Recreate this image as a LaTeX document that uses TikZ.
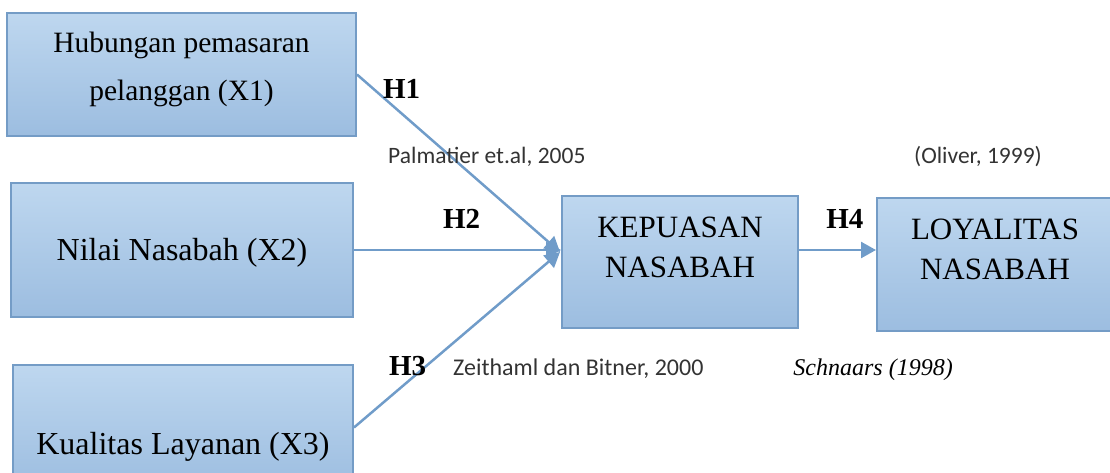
\documentclass[tikz,border=0pt]{standalone}
\usepackage{fontspec}
\setmainfont{Liberation Serif}
\newfontfamily\citefont{Carlito}
\usetikzlibrary{positioning, arrows.meta}

\definecolor{boxtop}{RGB}{190,215,239}
\definecolor{boxbot}{RGB}{156,189,224}
\definecolor{boxline}{RGB}{116,156,198}
\definecolor{linkblue}{RGB}{112,156,201}

\begin{document}
\begin{tikzpicture}[x=1pt,y=-1pt]
  \tikzstyle{var}=[draw=boxline, line width=2pt, top color=boxtop, bottom color=boxbot,
    align=center, inner sep=0pt, font=\fontsize{31}{48}\selectfont]
  \tikzstyle{link}=[draw=linkblue, line width=2.5pt, -{Triangle[length=15pt,width=16pt]}]
  \tikzstyle{hyp}=[font=\fontsize{29}{29}\selectfont\bfseries, inner sep=2pt]
  \tikzstyle{cite}=[font=\citefont\fontsize{23.5}{24}\selectfont, text=black!80, inner sep=0pt]
  \useasboundingbox (0,0) rectangle (1110,472);
  \clip (0,0) rectangle (1110,472);
  \node[var, minimum width=349pt, minimum height=123pt, text depth=16pt,
    font=\fontsize{29.5}{48}\selectfont] (x1) at (181.5,74.5) {Hubungan pemasaran\\pelanggan (X1)};
  \node[var, minimum width=342pt, minimum height=134pt, text height=28pt,
    font=\fontsize{32}{40}\selectfont] (x2) at (182,250) {Nilai Nasabah (X2)};
  \node[var, minimum width=340pt, minimum height=125pt, text height=60pt, text depth=7pt,
    font=\fontsize{32}{40}\selectfont] (x3) at (183,427.5) {Kualitas Layanan (X3)};
  \node[var, minimum width=236pt, minimum height=132pt, text depth=30pt,
    font=\fontsize{31}{40}\selectfont] (kep) at (680,262) {KEPUASAN\\NASABAH};
  \node[var, minimum width=236pt, minimum height=133pt, text depth=30pt,
    font=\fontsize{31}{40}\selectfont] (loy) at (995,264.5) {LOYALITAS\\NASABAH};
  \coordinate (hub) at (560,252);
  \path
    (x1.east) edge[link] node[hyp, pos=0.22, above=12pt] {H1} (hub)
    (x2.east) edge[link] node[hyp, pos=0.52, above=18pt] {H2} (x2.east -| kep.west)
    (x3.east) edge[link] node[hyp, pos=0.26, above=3pt] {H3} (hub)
    (kep.east |- x2.east) edge[link] node[hyp, pos=0.595, above=18pt] {H4} (loy.west |- x2.east)
    ;
  \node[cite, anchor=west] (palm) at (388,157) {Palmatier et.al, 2005};
  \node[cite] (oliv) at (978,157) {(Oliver, 1999)};
  \node[cite, anchor=west, font=\citefont\fontsize{24}{24}\selectfont] (zeit) at (453,369)
    {Zeithaml dan Bitner, 2000};
  \node[font=\fontsize{24}{24}\selectfont\itshape, inner sep=0pt, anchor=east] (schn) at (953,370)
    {Schnaars (1998)};
\end{tikzpicture}
\end{document}
